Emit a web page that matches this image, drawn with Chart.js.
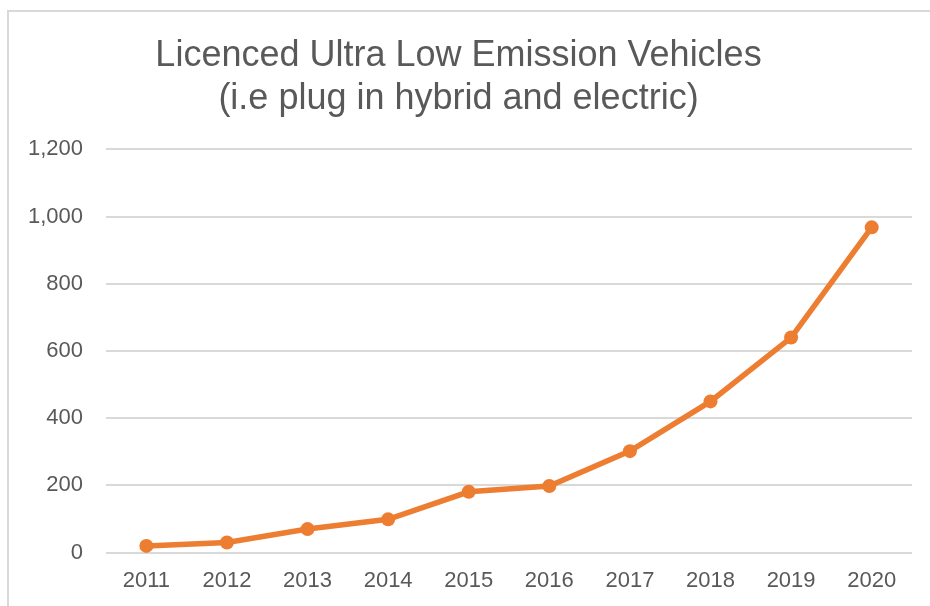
<!DOCTYPE html>
<html>
<head>
<meta charset="utf-8">
<script src="https://cdn.jsdelivr.net/npm/chart.js@4"></script>
<style>
  body { margin: 0; background: #fff; overflow: hidden; }
  #frame { position: absolute; left: 7px; top: 10px; width: 940px; height: 620px;
           border-left: 2px solid #d9d9d9; border-top: 2px solid #d9d9d9; }
  #chart { position: absolute; left: 0; top: 0; }
</style>
</head>
<body>
<div id="frame"></div>
<canvas id="chart" width="930" height="606"></canvas>
<script>
const years = ["2011", "2012", "2013", "2014", "2015", "2016", "2017", "2018", "2019", "2020"];
const vehicles = [20, 30, 70, 99, 181, 198, 302, 450, 640, 968];
const titleLines = ["Licenced Ultra Low Emission Vehicles", "(i.e plug in hybrid and electric)"];

const textColor = "#595959";
const lineColor = "#ED7D31";
const fontFamily = "Arial, 'Liberation Sans', sans-serif";

const ctx = document.getElementById("chart");
const chart = new Chart(ctx, {
    type: "line",
    data: {
        labels: years,
        datasets: [{
            label: "Licenced ULEVs",
            data: vehicles,
            borderColor: lineColor,
            backgroundColor: lineColor,
            borderWidth: 5.5,
            pointRadius: 7,
            pointBorderWidth: 0,
            pointBackgroundColor: lineColor,
            tension: 0,
            clip: false
        }]
    },
    options: {
        responsive: false,
        devicePixelRatio: 1,
        animation: false,
        layout: {
            padding: { left: 5, right: 18, top: 34, bottom: -3 }
        },
        plugins: {
            legend: { display: false },
            tooltip: { enabled: false },
            title: {
                display: true,
                text: titleLines,
                color: textColor,
                font: { family: fontFamily, size: 36, weight: "normal", lineHeight: 1.2 },
                padding: { top: 0, bottom: 29 }
            }
        },
        scales: {
            x: {
                offset: true,
                grid: { display: false, drawTicks: false },
                border: { display: false },
                ticks: {
                    color: textColor,
                    font: { family: fontFamily, size: 22 },
                    padding: 15,
                    maxRotation: 0
                }
            },
            y: {
                min: 0,
                max: 1200,
                border: { display: false },
                grid: { color: "#d9d9d9", lineWidth: 2, drawTicks: false },
                ticks: {
                    stepSize: 200,
                    color: textColor,
                    font: { family: fontFamily, size: 22 },
                    padding: 23
                }
            }
        }
    }
});
</script>
</body>
</html>
